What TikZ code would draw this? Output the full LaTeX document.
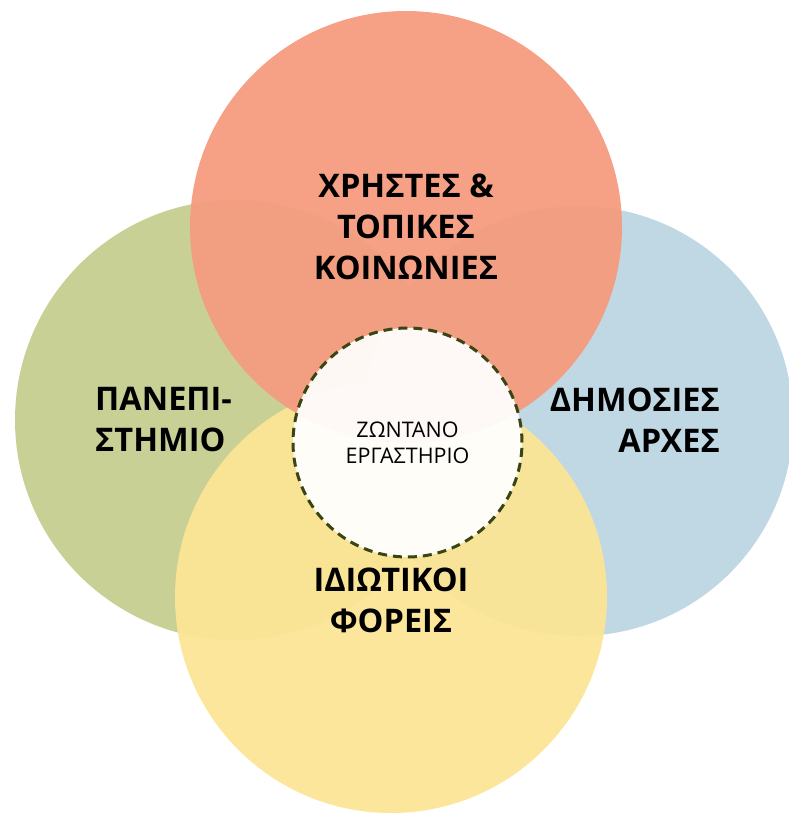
\documentclass[tikz,border=0pt]{standalone}
\usepackage{fontspec}
\setmainfont{Open Sans}
\definecolor{cgreen}{HTML}{C5CE8F}
\definecolor{cblue}{HTML}{BCD6E2}
\definecolor{cred}{HTML}{F59C7F}
\definecolor{cyellow}{HTML}{FCE596}
\definecolor{cdash}{HTML}{3A4514}
\tikzset{
  petal/.style={circle, minimum size=#1, inner sep=0pt, opacity=0.95},
  biglabel/.style={font=\fontsize{32.5}{41}\selectfont\bfseries, text=black, inner sep=0pt},
  smalllabel/.style={font=\fontsize{21.5}{26.5}\selectfont, text=black, inner sep=0pt, align=center}
}
\begin{document}
\begin{tikzpicture}[x=1pt,y=-1pt]
\useasboundingbox (0,0) rectangle (788,814);
\node[petal=440pt, fill=cgreen] (green) at (235,420) {};
\node[petal=430pt, fill=cblue] (blue) at (578,421) {};
\node[petal=432pt, fill=cyellow] (yellow) at (391,597) {};
\node[petal=432pt, fill=cred] (red) at (406,227) {};
\node[circle, minimum size=229pt, inner sep=0pt, fill=white, fill opacity=0.93,
      draw=cdash, line width=3pt, dash pattern=on 9pt off 6pt] (core) at (407.5,442.5) {};
\node[smalllabel] (coretext) at (407.5,443) {ΖΩΝΤΑΝΟ\\ΕΡΓΑΣΤΗΡΙΟ};
\node[biglabel, align=center] (redtext) at (406,227) {ΧΡΗΣΤΕΣ \&\\ΤΟΠΙΚΕΣ\\ΚΟΙΝΩΝΙΕΣ};
\node[biglabel, align=left, anchor=west] (greentext) at (95,420) {ΠΑΝΕΠΙ-\\ΣΤΗΜΙΟ};
\node[biglabel, align=right, anchor=east] (bluetext) at (720,420) {ΔΗΜΟΣΙΕΣ\\ΑΡΧΕΣ};
\node[biglabel, align=center] (yellowtext) at (391,600) {ΙΔΙΩΤΙΚΟΙ\\ΦΟΡΕΙΣ};
\end{tikzpicture}
\end{document}
